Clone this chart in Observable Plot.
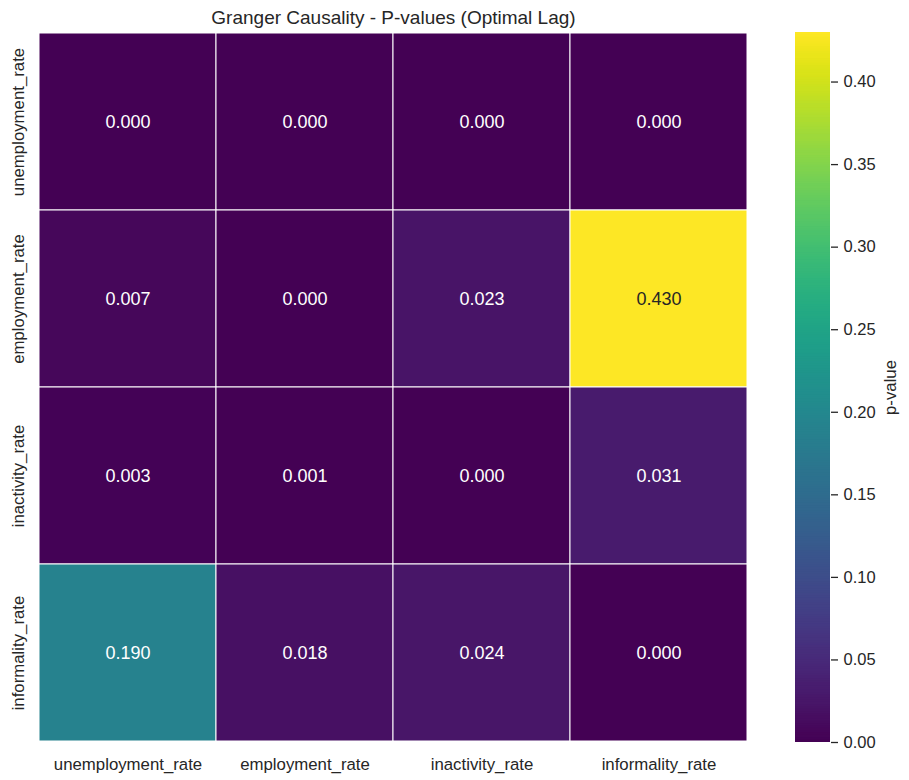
<!DOCTYPE html>
<html>
<head>
<meta charset="utf-8">
<script src="https://cdn.jsdelivr.net/npm/d3@7"></script>
<script src="https://cdn.jsdelivr.net/npm/@observablehq/plot@0.6"></script>
<style>
  html, body { margin: 0; padding: 0; background: white; }
  #wrap { position: relative; width: 909px; height: 780px; font-family: "Liberation Sans", Arial, sans-serif; }
  #wrap svg { position: absolute; left: 0; top: 0; }
</style>
</head>
<body>
<div id="wrap"></div>
<script>
const variables = ["unemployment_rate", "employment_rate", "inactivity_rate", "informality_rate"];
// rows = caused (y), columns = causing (x)
const row_unemployment = [0.000, 0.000, 0.000, 0.000];
const row_employment   = [0.007, 0.000, 0.023, 0.430];
const row_inactivity   = [0.003, 0.001, 0.000, 0.031];
const row_informality  = [0.190, 0.018, 0.024, 0.000];
const rows = [row_unemployment, row_employment, row_inactivity, row_informality];
const colorTicks = [0, 0.05, 0.10, 0.15, 0.20, 0.25, 0.30, 0.35, 0.40];
const colorMax = 0.43;
const title = "Granger Causality - P-values (Optimal Lag)";

const cells = [];
rows.forEach((r, i) => r.forEach((v, j) => cells.push({y: variables[i], x: variables[j], v})));

const W = 909, H = 780;
const font = '"Liberation Sans", Arial, sans-serif';
const textCol = "#262626";

const main = Plot.plot({
  width: W, height: H,
  marginLeft: 38, marginRight: 161, marginTop: 32, marginBottom: 38,
  style: {fontFamily: font, background: "transparent"},
  x: {domain: variables, padding: 0, axis: null},
  y: {domain: variables, padding: 0, axis: null},
  color: {type: "linear", scheme: "viridis", domain: [0, colorMax]},
  marks: [
    Plot.cell(cells, {x: "x", y: "y", fill: "v", stroke: "white", strokeWidth: 1, inset: 0}),
    Plot.text(cells, {x: "x", y: "y", text: d => d.v.toFixed(3), fill: d => d.v > 0.3 ? "#262626" : "white", fontSize: 18}),
    Plot.text(variables, {x: d => d, frameAnchor: "bottom", dy: 22, lineAnchor: "middle", fontSize: 16.8, fill: textCol}),
    Plot.text(variables, {y: d => d, frameAnchor: "left", dx: -20, rotate: -90, textAnchor: "middle", lineAnchor: "middle", fontSize: 16.8, fill: textCol}),
    Plot.text([title], {frameAnchor: "top", dy: -15, lineAnchor: "middle", fontSize: 19, fill: textCol})
  ]
});

const N = 300;
const stepSize = colorMax / N;
const steps = d3.range(0, N).map(i => i * stepSize);
const bar = Plot.plot({
  width: W, height: H,
  marginLeft: 795, marginRight: 79, marginTop: 32, marginBottom: 38,
  style: {fontFamily: font, background: "transparent"},
  x: {domain: [0, 1], axis: null},
  y: {domain: [0, colorMax], axis: null},
  color: {type: "linear", scheme: "viridis", domain: [0, colorMax]},
  marks: [
    Plot.rect(steps, {x1: 0, x2: 1, y1: d => d, y2: d => Math.min(colorMax, d + 2 * stepSize), fill: d => d + stepSize / 2}),
    Plot.axisY({anchor: "right", ticks: colorTicks, tickFormat: d3.format(".2f"), tickSize: 7, tickPadding: 6, fontSize: 16.5, color: textCol, label: null, strokeWidth: 1.3}),
    Plot.text(["p-value"], {frameAnchor: "right", dx: 60, rotate: -90, textAnchor: "middle", lineAnchor: "middle", fontSize: 16.8, fill: textCol})
  ]
});

document.getElementById("wrap").append(main, bar);
</script>
</body>
</html>
